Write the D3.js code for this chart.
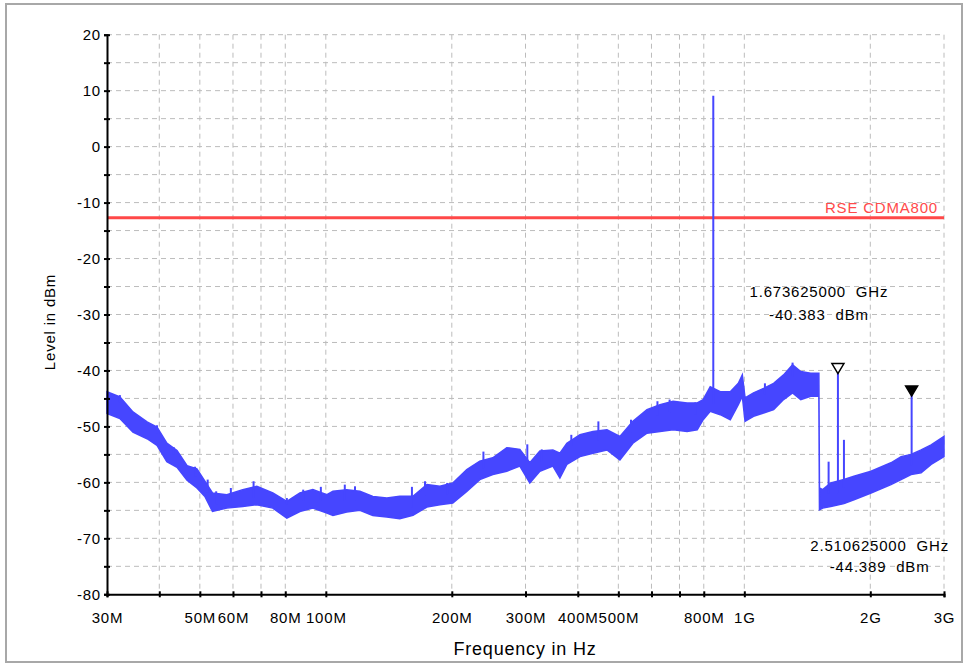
<!DOCTYPE html>
<html>
<head>
<meta charset="utf-8">
<script src="https://cdn.jsdelivr.net/npm/d3@7"></script>
<style>
  html, body { margin: 0; padding: 0; background: #fff; }
  text { font-family: "Liberation Sans", Arial, sans-serif; letter-spacing: 0.8px; }
</style>
</head>
<body>
<div id="svgdiv"></div>
<script>
// trace envelope (MHz, dBm)
var freqMHz = [30, 32.2, 34.6, 37.4, 39.5, 41.7, 44.1, 46.6, 49.2, 51.4, 53.6, 58, 63.3, 68.4, 74.7,
  80.7, 86.7, 93.1, 100.6, 104, 112.2, 120.6, 129.5, 139.9, 150.2, 161.5, 174.4, 187.3, 201.1,
  217.2, 233.3, 250.6, 270.6, 290.8, 307.2, 324.7, 348.8, 362.5, 376.7, 404.8, 435, 469.6, 504.3,
  541.7, 585.3, 628.9, 675.7, 729.9, 771.6, 797.4, 828.9, 876, 925.6, 967.5, 989, 1004, 1052,
  1112, 1175, 1241, 1304, 1364, 1441, 1507, 1512, 1539, 1609, 1730, 1828, 2008, 2241, 2369,
  2503, 2645, 2795, 3000];
var upper = [-43.8, -44.7, -47.4, -49.2, -50.1, -53.0, -54.3, -57.0, -57.6, -59.8, -61.9, -62.2, -61.3, -60.7, -61.9,
  -63.4, -61.9, -61.3, -62.2, -61.6, -61.3, -61.6, -62.5, -62.8, -62.5, -62.5, -60.4, -60.7, -60.1,
  -57.7, -56.2, -55.6, -53.8, -54.1, -56.5, -54.4, -54.2, -54.8, -53.0, -51.5, -50.9, -50.6, -51.8,
  -49.1, -47.0, -46.1, -45.5, -45.8, -45.8, -45.2, -42.9, -43.8, -43.8, -42.3, -40.8, -44.9, -44.0,
  -43.2, -42.3, -40.8, -39.0, -40.2, -40.5, -40.5, -61.0, -61.3, -60.1, -59.5, -58.9, -58.0, -56.5, -55.4,
  -55.0, -54.2, -53.3, -51.8];
var lower = [-47.7, -48.6, -51.0, -52.2, -53.4, -56.3, -57.3, -59.6, -61.0, -62.5, -65.2, -64.6, -64.3, -64.0, -64.6,
  -66.4, -65.2, -64.6, -65.5, -65.9, -65.3, -65.0, -65.9, -66.2, -66.5, -65.9, -64.4, -64.0, -63.7,
  -61.6, -59.5, -58.6, -58.0, -57.1, -60.1, -58.0, -57.1, -59.2, -56.8, -55.4, -54.8, -54.2, -56.0,
  -53.0, -51.2, -50.9, -50.6, -50.9, -50.6, -48.8, -47.3, -47.9, -48.8, -46.1, -44.6, -49.1, -48.2,
  -47.6, -47.0, -45.2, -44.0, -45.2, -44.6, -44.6, -64.9, -64.6, -64.3, -63.8, -63.1, -61.9, -60.4, -59.5,
  -58.6, -58.3, -56.8, -55.4];

// small noise peaks poking above the band
var peakFreqMHz = [32.2, 39.5, 43.3, 48.7, 52.2, 54.7, 59.3, 67.2, 80.7, 88.3, 97.3, 111, 117.4,
  160.6, 172.6, 195, 238, 303, 328, 386, 448, 536, 620, 663, 764, 1120, 1304];
var peakTop = [-44.4, -49.8, -53.7, -57.2, -59.5, -61.6, -61.0, -59.8, -62.8, -61.3, -60.8, -60.4, -60.7,
  -60.8, -59.8, -60.1, -54.5, -53.2, -54.1, -51.5, -49.1, -48.8, -45.5, -45.2, -45.7, -42.3, -38.6];

// narrow spurs sticking out of the noise
var spurFreqMHz = [843, 1590, 1673.625, 1730, 2510.625];
var spurTop = [9.1, -56.3, -40.383, -52.4, -44.389];
var spurBase = [-46, -62, -62, -61, -57];

// markers
var markerFreqMHz = [1673.625, 2510.625];
var markerLevel = [-40.383, -44.389];
var markerFilled = [false, true];
var markerText1 = ["1.673625000  GHz", "2.510625000  GHz"];
var markerText2 = ["-40.383  dBm", "-44.389  dBm"];

// limit line
var limitLevel = -12.7;
var limitName = "RSE CDMA800";

// axes
var gridFreqMHz = [40, 50, 60, 70, 80, 100, 200, 300, 400, 500, 600, 700, 800, 1000, 2000, 3000];
var xTickMHz = [30, 40, 50, 60, 70, 80, 100, 200, 300, 400, 500, 600, 700, 800, 1000, 2000, 3000];
var xTickLabels = {30: "30M", 50: "50M", 60: "60M", 80: "80M", 100: "100M", 200: "200M", 300: "300M",
  400: "400M", 500: "500M", 800: "800M", 1000: "1G", 2000: "2G", 3000: "3G"};
var yTicks = d3.range(-80, 21, 5);
var yLabels = d3.range(-80, 21, 10);

var width = 966, height = 664;
var svg = d3.select("#svgdiv").append("svg")
    .attr("width", width)
    .attr("height", height);

// window frame
svg.append("rect")
   .attr("x", 6).attr("y", 4)
   .attr("width", 956).attr("height", 658)
   .attr("fill", "#fff")
   .attr("stroke", "#a8a8a8")
   .attr("stroke-width", 2);

var x = d3.scaleLog().domain([30, 3000]).range([107, 944]);
var y = d3.scaleLinear().domain([-80, 20]).range([594.3, 34.7]);
var traceColor = "#4646ff";

// grid
svg.append("g").selectAll("line")
   .data(yTicks.filter(function(d){ return d > -80; }))
   .enter().append("line")
   .attr("x1", x(30)).attr("x2", x(3000))
   .attr("y1", function(d){ return y(d); })
   .attr("y2", function(d){ return y(d); })
   .attr("stroke", "#bcbcbc")
   .attr("stroke-dasharray", "5,4");

svg.append("g").selectAll("line")
   .data(gridFreqMHz)
   .enter().append("line")
   .attr("x1", function(d){ return x(d); })
   .attr("x2", function(d){ return x(d); })
   .attr("y1", y(20)).attr("y2", y(-80))
   .attr("stroke", "#bcbcbc")
   .attr("stroke-dasharray", "5,4");

// limit line
svg.append("line")
   .attr("x1", x(30)).attr("x2", x(3000))
   .attr("y1", y(limitLevel)).attr("y2", y(limitLevel))
   .attr("stroke", "#ff4848")
   .attr("stroke-width", 3);

svg.append("text")
   .text(limitName)
   .attr("x", 938)
   .attr("y", y(limitLevel) - 5)
   .attr("text-anchor", "end")
   .attr("font-size", "15px")
   .attr("fill", "#ff4a4a");

// trace
var band = freqMHz.map(function(f, i){ return {f: f, hi: upper[i], lo: lower[i]}; });

svg.append("path")
   .datum(band)
   .attr("d", d3.area()
        .x(function(d){ return x(d.f); })
        .y0(function(d){ return y(d.lo); })
        .y1(function(d){ return y(d.hi); }))
   .attr("fill", traceColor)
   .attr("stroke", traceColor)
   .attr("stroke-width", 1.5);

// noise peaks rise from the band's upper edge
var upperAt = function(f){
    var i = d3.bisectLeft(freqMHz, f);
    return d3.max([upper[Math.max(0, i - 1)], upper[Math.min(freqMHz.length - 1, i)]]);
};
svg.append("g").selectAll("line")
   .data(peakFreqMHz)
   .enter().append("line")
   .attr("x1", function(d){ return x(d); })
   .attr("x2", function(d){ return x(d); })
   .attr("y1", function(d){ return y(upperAt(d) - 2); })
   .attr("y2", function(d, i){ return y(peakTop[i]); })
   .attr("stroke", traceColor)
   .attr("stroke-width", 2);

svg.append("g").selectAll("line")
   .data(spurFreqMHz)
   .enter().append("line")
   .attr("x1", function(d){ return x(d); })
   .attr("x2", function(d){ return x(d); })
   .attr("y1", function(d, i){ return y(spurBase[i]); })
   .attr("y2", function(d, i){ return y(spurTop[i]); })
   .attr("stroke", traceColor)
   .attr("stroke-width", 2);

// axes
var xAxis = svg.append("g")
   .attr("transform", "translate(0," + y(-80) + ")")
   .call(d3.axisBottom(x).tickValues(xTickMHz).tickSize(3)
         .tickFormat(function(d){ return xTickLabels[d] || ""; }));

var yAxis = svg.append("g")
   .attr("transform", "translate(" + x(30) + ",0)")
   .call(d3.axisLeft(y).tickValues(yTicks).tickSize(3)
         .tickFormat(function(d){ return yLabels.indexOf(d) >= 0 ? d : ""; }));

[xAxis, yAxis].forEach(function(g){
    g.select(".domain").attr("stroke", "#000").attr("stroke-width", 2);
    g.selectAll(".tick line").attr("stroke", "#000").attr("stroke-width", 2);
    g.selectAll(".tick text")
     .attr("fill", "#000")
     .attr("font-size", "15px")
     .attr("font-family", "'Liberation Sans', Arial, sans-serif");
});
xAxis.selectAll(".tick line").attr("y1", -3).attr("y2", 3);
xAxis.selectAll(".tick text").attr("y", 29).attr("dy", null);
yAxis.selectAll(".tick line").attr("x1", -3).attr("x2", 3);
yAxis.selectAll(".tick text").attr("x", -6).attr("dy", "0.34em");

// axis titles
svg.append("text")
   .text("Frequency in Hz")
   .attr("x", 525)
   .attr("y", 655)
   .attr("text-anchor", "middle")
   .attr("font-size", "18px");

svg.append("text")
   .text("Level in dBm")
   .attr("transform", "translate(55," + 322 + ") rotate(-90)")
   .attr("text-anchor", "middle")
   .attr("font-size", "15px");

// markers
var labelOffset = [{dx: -19, dy1: -77, dy2: -54}, {dx: -32, dy1: 155, dy2: 176}];

markerFreqMHz.forEach(function(f, i){
    var mx = x(f), my = y(markerLevel[i]) + 1;
    svg.append("path")
       .attr("d", "M" + (mx - 6) + "," + (my - 10) + "L" + (mx + 6) + "," + (my - 10) + "L" + mx + "," + my + "Z")
       .attr("fill", markerFilled[i] ? "#000" : "#fff")
       .attr("stroke", "#000")
       .attr("stroke-width", 1.5);

    svg.append("text")
       .text(markerText1[i])
       .attr("x", mx + labelOffset[i].dx)
       .attr("y", my + labelOffset[i].dy1)
       .attr("text-anchor", "middle")
       .attr("font-size", "15px")
       .style("white-space", "pre");

    svg.append("text")
       .text(markerText2[i])
       .attr("x", mx + labelOffset[i].dx)
       .attr("y", my + labelOffset[i].dy2)
       .attr("text-anchor", "middle")
       .attr("font-size", "15px")
       .style("white-space", "pre");
});
</script>
</body>
</html>
